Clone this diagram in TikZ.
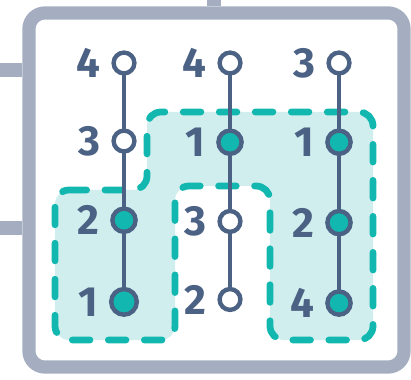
\documentclass[tikz,border=0pt]{standalone}
\usepackage{fontspec}
\setmainfont{Fira Sans}
\usetikzlibrary{positioning}
\definecolor{BoardGrey}{HTML}{A4AEC0}
\definecolor{TreeInk}{HTML}{4B6284}
\definecolor{GroupTeal}{HTML}{12B8B0}
\definecolor{GroupLight}{HTML}{D0EEEE}
\tikzset{
  board/.style={
    draw=BoardGrey,
    line width=0.33cm,
    rounded corners=0.4cm,
    minimum width=9.375cm,
    minimum height=8.85cm
  },
  stub/.style={draw=BoardGrey,line width=0.33cm},
  opennode/.style={circle,draw=TreeInk,fill=white,line width=0.11cm,minimum size=0.52cm,inner sep=0pt},
  usednode/.style={opennode,fill=GroupTeal,minimum size=0.58cm},
  rank/.style={text=TreeInk,font=\bfseries\fontsize{30}{30}\selectfont,inner sep=0pt},
  branch/.style={draw=TreeInk,line width=0.1cm,line cap=round},
  group/.style={
    draw=GroupTeal,
    fill=GroupLight,
    line width=0.17cm,
    line cap=round,
    dash pattern=on 0.44cm off 0.46cm,
    rounded corners=0.35cm
  }
}

\begin{document}
\begin{tikzpicture}[x=0.025cm,y=-0.025cm,node distance=1.32cm and 0.26cm]
    \useasboundingbox (0,0) rectangle (411,379);

    % frame and its stubs
    \node[board] (frame) at (216.5,190) {};
    \coordinate (stubL1) at (0,70);
    \coordinate (stubL2) at (0,228);
    \coordinate (stubT) at (214,0);
    \draw[stub] (stubL1) -- (stubL1 -| frame.west);
    \draw[stub] (stubL2) -- (stubL2 -| frame.west);
    \draw[stub] (stubT) -- (stubT |- frame.north);

    % highlighted group
    \draw[group] (55,190) -- (147,190) -- (147,112) -- (373,112) -- (373,340)
      -- (270,340) -- (270,186) -- (175,186) -- (175,340) -- (55,340) -- cycle;

    % first column
    \node[opennode] (a1) at (124,63) {};
    \node[opennode,below=of a1] (a2) {};
    \node[usednode,below=of a2] (a3) {};
    \node[usednode,below=of a3,minimum size=0.64cm] (a4) {};

    % second column
    \node[opennode] (b1) at (230,63) {};
    \node[usednode,below=of b1] (b2) {};
    \node[opennode,below=of b2] (b3) {};
    \node[opennode,below=of b3] (b4) {};

    % third column
    \node[opennode] (c1) at (339,63) {};
    \node[usednode,below=of c1] (c2) {};
    \node[usednode,below=of c2] (c3) {};
    \node[usednode,below=of c3] (c4) {};

    \draw[branch] (a1) -- (a2);
    \draw[branch] (a2) -- (a3);
    \draw[branch] (a3) -- (a4);
    \draw[branch] (b1) -- (b2);
    \draw[branch] (b2) -- (b3);
    \draw[branch] (b3) -- (b4);
    \draw[branch] (c1) -- (c2);
    \draw[branch] (c2) -- (c3);
    \draw[branch] (c3) -- (c4);

    % ranks
    \node[rank,left=of a1] (ra1) {4};
    \node[rank,left=of a2] (ra2) {3};
    \node[rank,left=of a3] (ra3) {2};
    \node[rank,left=of a4] (ra4) {1};
    \node[rank,left=of b1] (rb1) {4};
    \node[rank,left=of b2] (rb2) {1};
    \node[rank,left=of b3] (rb3) {3};
    \node[rank,left=of b4] (rb4) {2};
    \node[rank,left=of c1] (rc1) {3};
    \node[rank,left=of c2] (rc2) {1};
    \node[rank,left=of c3] (rc3) {2};
    \node[rank,left=of c4] (rc4) {4};
  \end{tikzpicture}
\end{document}
